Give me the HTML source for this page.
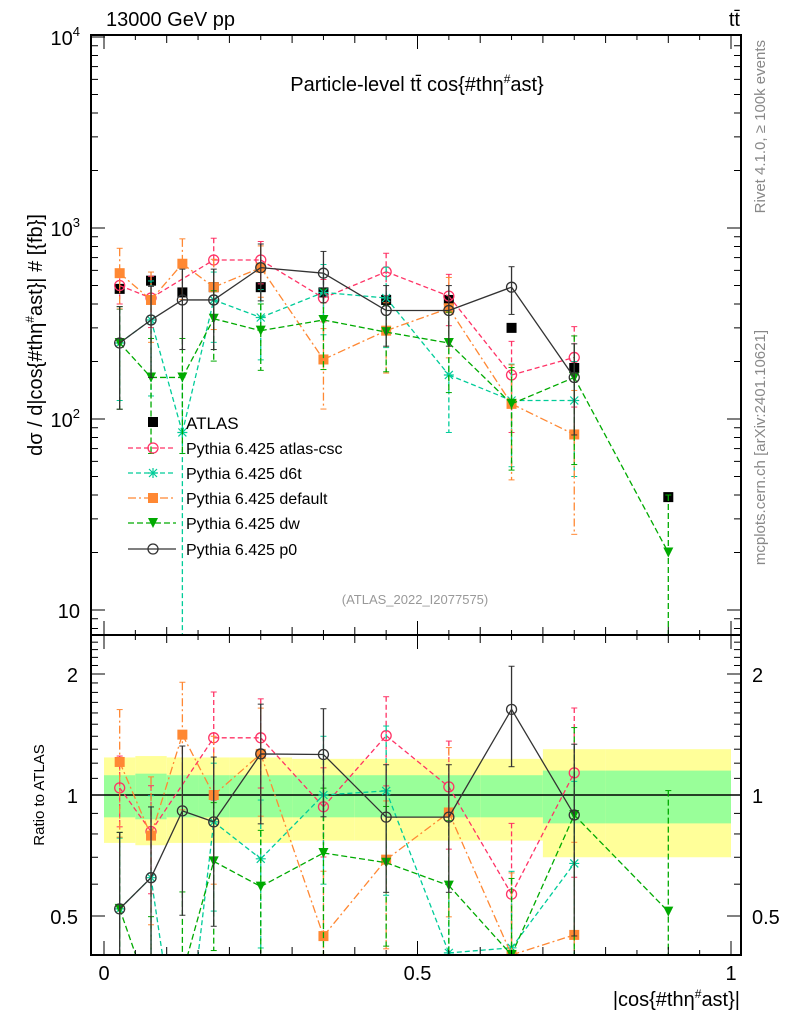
<!DOCTYPE html>
<html><head><meta charset="utf-8"><style>
html,body{margin:0;padding:0;background:#fff;overflow:hidden;width:786px;height:1024px}
svg{display:block}
svg text{font-family:"Liberation Sans",sans-serif}
</style></head><body>
<svg id="c" width="786" height="1024" xmlns="http://www.w3.org/2000/svg">
<defs>
<clipPath id="cm"><rect x="91" y="35" width="650" height="600"/></clipPath>
<clipPath id="cr"><rect x="91" y="635" width="650" height="320"/></clipPath>
</defs>
<g id="bands" clip-path="url(#cr)"></g>
<g id="series"></g>
<g id="axes"></g>
<text x="106" y="26" font-size="20">13000 GeV pp</text>
<text x="740" y="26" font-size="20" text-anchor="end">tt̄</text>
<text x="417" y="91" font-size="20" text-anchor="middle">Particle-level tt̄ cos{#thη<tspan font-size="12" dy="-8">#</tspan><tspan dy="8">ast}</tspan></text>
<text x="415" y="604" font-size="13" fill="#999" text-anchor="middle">(ATLAS_2022_I2077575)</text>
<text transform="translate(42,335) rotate(-90)" font-size="20" text-anchor="middle">dσ / d|cos{#thη<tspan font-size="12" dy="-8">#</tspan><tspan dy="8">ast}| # [{fb}]</tspan></text>
<text transform="translate(44,795) rotate(-90)" font-size="15" text-anchor="middle">Ratio to ATLAS</text>
<text x="740" y="1006" font-size="20" text-anchor="end">|cos{#thη<tspan font-size="12" dy="-8">#</tspan><tspan dy="8">ast}|</tspan></text>
<text transform="translate(765,40) rotate(-90)" font-size="15" fill="#888" text-anchor="end">Rivet 4.1.0, ≥ 100k events</text>
<text transform="translate(765,330) rotate(-90)" font-size="15" fill="#888" text-anchor="end">mcplots.cern.ch [arXiv:2401.10621]</text>
<g id="legend"></g>
</svg>
<script>
const centers=[0.025,0.075,0.125,0.175,0.25,0.35,0.45,0.55,0.65,0.75,0.9];
const edges=[0,0.05,0.1,0.15,0.2,0.3,0.4,0.5,0.6,0.7,0.8,1.0];
const atlas=[480,530,460,490,490,460,420,420,300,185,39];
const bandGreen=[0.12,0.13,0.12,0.12,0.12,0.12,0.12,0.12,0.12,0.15,0.15,0.15];
const bandYellow=[0.24,0.25,0.24,0.24,0.24,0.23,0.23,0.23,0.23,0.3,0.3,0.3];
const csc=[500,430,null,680,680,430,590,440,170,210,null];
const d6t=[250,330,85,420,340,460,430,170,125,125,null];
const dflt=[580,420,650,490,620,205,290,380,120,83,null];
const dw=[250,165,165,335,290,330,285,250,120,165,20];
const p0=[250,330,420,420,620,580,370,370,490,165,null];
const cscErr=[0.2,0.3,0.3,0.3,0.25,0.25,0.25,0.3,0.5,0.45,0];
const d6tErr=[0.5,0.6,0.95,0.4,0.4,0.4,0.45,0.5,0.55,0.6,0];
const dfltErr=[0.35,0.4,0.35,0.4,0.3,0.45,0.4,0.45,0.6,0.7,0];
const dwErr=[0.55,0.6,0.6,0.4,0.38,0.45,0.38,0.45,0.55,0.65,1.0];
const p0Err=[0.55,0.5,0.45,0.45,0.33,0.3,0.35,0.35,0.28,0.5,0];
const xTicks=[0,0.5,1];
const yTicks=[10,100,1000,10000];
const rTicks=[0.5,1,2];

const X=v=>104+v*627;
const Y=v=>610-191*Math.log10(v/10);
const R=r=>795-121*Math.log2(r);
const clamp=(v,a,b)=>Math.min(b,Math.max(a,v));
const NS="http://www.w3.org/2000/svg";
function mk(tag,attrs,parent){const e=document.createElementNS(NS,tag);for(const k in attrs)e.setAttribute(k,attrs[k]);parent.appendChild(e);return e;}
const axes=document.getElementById('axes'),series=document.getElementById('series'),bands=document.getElementById('bands'),legend=document.getElementById('legend');

for(let i=0;i<edges.length-1;i++){
  const x1=X(edges[i]),x2=X(edges[i+1]);
  const by=mk('rect',{x:x1,y:R(1+bandYellow[i]),width:x2-x1,height:R(1-bandYellow[i])-R(1+bandYellow[i]),fill:'#ffff99'},bands);
  
  
  const bg=mk('rect',{x:x1,y:R(1+bandGreen[i]),width:x2-x1,height:R(1-bandGreen[i])-R(1+bandGreen[i]),fill:'#99ff99'},bands);
  
  
}
mk('line',{x1:91,x2:741,y1:R(1),y2:R(1),stroke:'#000','stroke-width':1.5},bands);

mk('rect',{x:91,y:35,width:650,height:600,fill:'none',stroke:'#000','stroke-width':2},axes);
mk('rect',{x:91,y:635,width:650,height:320,fill:'none',stroke:'#000','stroke-width':2},axes);
for(let v=0;v<=1.0001;v+=0.05){
  const major=Math.abs(v*10-Math.round(v*10))<1e-6; const big=Math.abs(v*2-Math.round(v*2))<1e-6;
  const l=big?14:(major?8:5);
  [35,635].forEach(y0=>mk('line',{x1:X(v),x2:X(v),y1:y0,y2:y0+l,stroke:'#000'},axes));
  [635,955].forEach(y0=>mk('line',{x1:X(v),x2:X(v),y1:y0,y2:y0-l,stroke:'#000'},axes));
}
xTicks.forEach(v=>{const t=mk('text',{x:X(v),y:980,'font-size':20,'text-anchor':'middle'},axes);t.textContent=String(v);

});
for(let d=1;d<=3;d++)for(let m=1;m<10;m++){const v=m*Math.pow(10,d);const y=Y(v);const l=m===1?14:7;
  mk('line',{x1:91,x2:91+l,y1:y,y2:y,stroke:'#000'},axes);mk('line',{x1:741,x2:741-l,y1:y,y2:y,stroke:'#000'},axes);}
mk('line',{x1:91,x2:105,y1:Y(10000),y2:Y(10000),stroke:'#000'},axes);
[9,8].forEach(m=>{const y=Y(m);if(y<635){mk('line',{x1:91,x2:98,y1:y,y2:y,stroke:'#000'},axes);mk('line',{x1:741,x2:734,y1:y,y2:y,stroke:'#000'},axes);}});
yTicks.forEach(v=>{const e=Math.round(Math.log10(v));const t=mk('text',{x:80,y:Y(v)+8,'font-size':20,'text-anchor':'end'},axes);
  if(e===1)t.textContent='10';else{t.textContent='10';const s=mk('tspan',{'font-size':13,dy:-9},t);s.textContent=String(e);}
  
  });
for(let r=0.4;r<=2.5001;r+=0.1){const y=R(r);if(y<636||y>954)continue;const major=[0.5,1,2].some(q=>Math.abs(q-r)<1e-6);const l=major?14:7;
  mk('line',{x1:91,x2:91+l,y1:y,y2:y,stroke:'#000'},axes);mk('line',{x1:741,x2:741-l,y1:y,y2:y,stroke:'#000'},axes);}
rTicks.forEach(r=>{[78,752].forEach((x,i)=>{const t=mk('text',{x:x,y:R(r)+8,'font-size':20,'text-anchor':i?'start':'end'},axes);t.textContent=String(r);
  
  });});

function marker(kind,x,y,color,g){
  if(kind==='sq'||kind==='osq')mk('rect',{x:x-5,y:y-5,width:10,height:10,fill:color},g);
  else if(kind==='circ')mk('circle',{cx:x,cy:y,r:5,fill:'none',stroke:color,'stroke-width':1.3},g);
  else if(kind==='tri')mk('path',{d:`M${x-5},${y-5}L${x+5},${y-5}L${x},${y+5}Z`,fill:color},g);
  else if(kind==='star'){mk('path',{d:`M${x-5},${y}L${x+5},${y}M${x},${y-5}L${x},${y+5}M${x-4},${y-4}L${x+4},${y+4}M${x-4},${y+4}L${x+4},${y-4}`,stroke:color,'stroke-width':1.2},g);}
}
const defs=[
 {name:'atlas-csc',vals:csc,err:cscErr,color:'#ff3366',dash:'5,3',mk:'circ',label:'Pythia 6.425 atlas-csc'},
 {name:'d6t',vals:d6t,err:d6tErr,color:'#00cc99',dash:'5,3',mk:'star',label:'Pythia 6.425 d6t'},
 {name:'default',vals:dflt,err:dfltErr,color:'#ff8833',dash:'8,3,2,3',mk:'osq',label:'Pythia 6.425 default'},
 {name:'dw',vals:dw,err:dwErr,color:'#00aa00',dash:'6,3',mk:'tri',label:'Pythia 6.425 dw'},
 {name:'p0',vals:p0,err:p0Err,color:'#333333',dash:'',mk:'circ',label:'Pythia 6.425 p0'}
];
function clipSeg(x1,y1,x2,y2,lo,hi){
  // clip segment vertically to [lo,hi]
  const t0=[0,1];let a=0,b=1;const dy=y2-y1;
  if(Math.abs(dy)<1e-9){if(y1<lo||y1>hi)return null;return [x1,y1,x2,y2];}
  let ta=(lo-y1)/dy,tb=(hi-y1)/dy;if(ta>tb){const q=ta;ta=tb;tb=q;}
  a=Math.max(a,ta);b=Math.min(b,tb);if(a>=b)return null;
  return [x1+(x2-x1)*a,y1+dy*a,x1+(x2-x1)*b,y1+dy*b];
}
function drawSeries(s,panel){
  const g=mk('g',{'clip-path':panel==='main'?'url(#cm)':'url(#cr)'},series);
  
  
  const lo=panel==='main'?35:635, hi=panel==='main'?635:955;
  const f=panel==='main'?(i=>Y(s.vals[i])):(i=>R(s.vals[i]/atlas[i]));
  const fe=panel==='main'?((i,k)=>Y(s.vals[i]*k)):((i,k)=>R(s.vals[i]*k/atlas[i]));
  let pts=[];
  centers.forEach((c,i)=>{if(s.vals[i]==null)return;pts.push([X(c),f(i)]);});
  let d='';
  for(let k=0;k+1<pts.length;k++){const sg=clipSeg(pts[k][0],pts[k][1],pts[k+1][0],pts[k+1][1],lo-2,hi+2);
    if(sg)d+=`M${sg[0]},${sg[1]}L${sg[2]},${sg[3]}`;}
  if(d)mk('path',{d:d,fill:'none',stroke:s.color,'stroke-width':1.3,'stroke-dasharray':s.dash},g);
  centers.forEach((c,i)=>{if(s.vals[i]==null)return;const x=X(c);
    const e=s.err[i];const ym=f(i);
    if(e>0){const y1=clamp(fe(i,1+e),lo-2,hi+2),y2=clamp(fe(i,Math.max(1-e,0.001)),lo-2,hi+2);
      if(y1<y2){mk('line',{x1:x,x2:x,y1:y1,y2:y2,stroke:s.color,'stroke-width':1.3,'stroke-dasharray':s.dash},g);
      mk('line',{x1:x-3,x2:x+3,y1:y1,y2:y1,stroke:s.color},g);mk('line',{x1:x-3,x2:x+3,y1:y2,y2:y2,stroke:s.color},g);}}
    if(ym<hi+4&&ym>lo-4)marker(s.mk,x,ym,s.color,g);});
}
const ga=mk('g',{},series);


centers.forEach((c,i)=>marker('sq',X(c),Y(atlas[i]),'#000',ga));
defs.forEach(s=>{drawSeries(s,'main');drawSeries(s,'ratio');});

const ly=[422,448,473,498,523,549];
const lg=mk('g',{},legend);


marker('sq',153,ly[0],'#000',lg);
let t=mk('text',{x:186,y:ly[0]+7,'font-size':17},lg);t.textContent='ATLAS';
defs.forEach((s,k)=>{const y=ly[k+1];
  const e=mk('g',{},lg);
  
  
  mk('line',{x1:128,x2:176,y1:y,y2:y,stroke:s.color,'stroke-width':1.3,'stroke-dasharray':s.dash},e);
  marker(s.mk,153,y,s.color,e);
  const tx=mk('text',{x:186,y:y+6,'font-size':16},e);tx.textContent=s.label;});
</script>
</body></html>
